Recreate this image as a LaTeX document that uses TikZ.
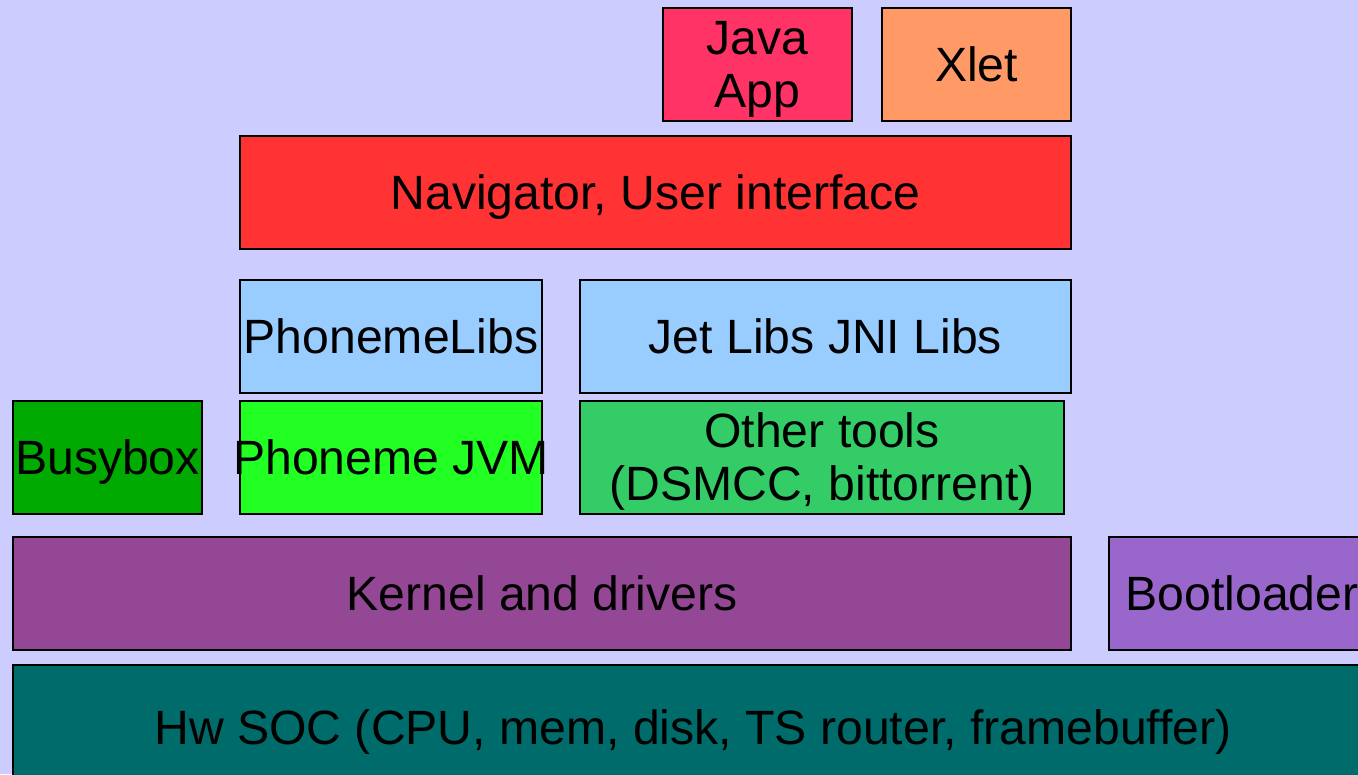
\documentclass[tikz,border=0pt]{standalone}
\usepackage{fontspec}
\setmainfont{Liberation Sans}
\definecolor{bg}{HTML}{CCCCFF}
\definecolor{javac}{HTML}{FF3366}
\definecolor{xletc}{HTML}{FF9966}
\definecolor{navc}{HTML}{FF3333}
\definecolor{libc}{HTML}{99CCFF}
\definecolor{busyc}{HTML}{00AA00}
\definecolor{jvmc}{HTML}{22FF22}
\definecolor{toolc}{HTML}{33CC66}
\definecolor{kernc}{HTML}{934794}
\definecolor{bootc}{HTML}{9966CC}
\definecolor{hwc}{HTML}{006B6B}
\tikzset{
  blk/.style={draw=black, line width=0.6pt, inner sep=0pt},
  lbl/.style={inner sep=0pt, align=center, anchor=base, font=\fontsize{27.4}{30}\selectfont},
}
\newcommand{\blkbox}[8]{% name, x1, y1, x2, y2, color, text, baseline offset (px)
  \node[blk, fill=#6, minimum width={(#4-#2)*0.02cm}, minimum height={(#5-#3)*0.02cm}]
    (#1) at ({(#2+#4)/2},{(#3+#5)/2}) {};
  \node[lbl] (#1-t) at ([yshift={-#8*0.02cm}]#1.center) {#7};}
\begin{document}
\begin{tikzpicture}[x=0.02cm,y=-0.02cm]
\useasboundingbox (0,0) rectangle (1358,774);
\clip (0,0) rectangle (1358,774);
\fill[bg] (0,0) rectangle (1358,774);
\blkbox{java}{663}{8}{852}{121}{javac}{Java\\App}{42.5}
\blkbox{xlet}{882}{8}{1071}{121}{xletc}{Xlet}{16.5}
\blkbox{nav}{240}{136}{1071}{249}{navc}{Navigator, User interface}{16.5}
\blkbox{plibs}{240}{280}{542}{393}{libc}{PhonemeLibs}{16.5}
\blkbox{jet}{580}{280}{1071}{393}{libc}{Jet Libs JNI Libs}{16.5}
\blkbox{busy}{13}{401}{202}{514}{busyc}{Busybox}{16.5}
\blkbox{jvm}{240}{401}{542}{514}{jvmc}{Phoneme JVM}{16.5}
\blkbox{tools}{580}{401}{1064}{514}{toolc}{Other tools\\(DSMCC, bittorrent)}{42.5}
\blkbox{kern}{13}{537}{1071}{650}{kernc}{Kernel and drivers}{16.5}
\blkbox{boot}{1109}{537}{1375}{650}{bootc}{Bootloader}{16.5}
\blkbox{hw}{13}{665}{1373}{790}{hwc}{Hw SOC (CPU, mem, disk, TS router, framebuffer)}{16.5}
\end{tikzpicture}
\end{document}
